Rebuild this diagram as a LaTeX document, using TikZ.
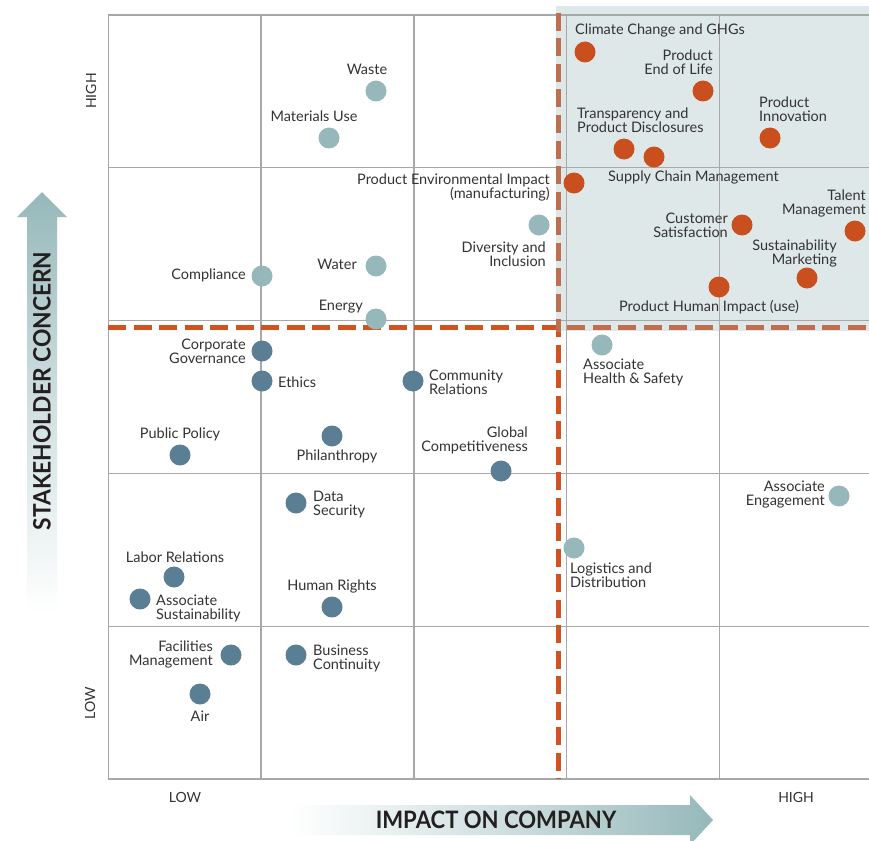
\documentclass[tikz,border=0pt]{standalone}
\usepackage{fontspec}
\setmainfont{Lato}
\definecolor{orgdot}{HTML}{C9501E}
\definecolor{tealdot}{HTML}{96B8BA}
\definecolor{bluedot}{HTML}{5A7E94}
\definecolor{gridc}{HTML}{A8A8A8}
\definecolor{shadec}{HTML}{DFE8E8}
\definecolor{dasho}{HTML}{CF5420}
\definecolor{dashb}{HTML}{BF6E4E}
\definecolor{txt}{HTML}{333333}
\definecolor{arrowc}{HTML}{96B8BA}
\definecolor{arrowtxt}{HTML}{231F20}
\begin{document}
\begin{tikzpicture}[x=1pt,y=-1pt,
  dotbase/.style={circle,minimum size=21pt,inner sep=0pt},
  dotO/.style={dotbase,fill=orgdot},
  dotT/.style={dotbase,fill=tealdot},
  dotB/.style={dotbase,fill=bluedot},
  lbl/.style={font=\fontsize{14.5}{14}\selectfont,text=txt,inner sep=0pt},
  lblL/.style={lbl,anchor=west,align=left},
  lblR/.style={lbl,anchor=east,align=right},
  lblC/.style={lbl,anchor=center,align=center},
  gridline/.style={draw=gridc,line width=1.3pt},
  dashline/.style={line width=5pt,dash pattern=on 18pt off 7.5pt},
  axislbl/.style={font=\fontsize{14}{14}\selectfont,text=txt,inner sep=0pt},
  bigarrowtxt/.style={font=\fontsize{24}{24}\selectfont\bfseries,text=arrowtxt,inner sep=0pt}
]
\useasboundingbox (0,0) rectangle (869,840);
\fill[white] (0,0) rectangle (869,840);
% shaded high/high region
\fill[shadec] (556,6) rectangle (872,331);
% grid
\foreach \k in {0,...,5}{
  \draw[gridline] ({108.3+152.8*\k},15) -- ({108.3+152.8*\k},779);
  \draw[gridline] (108.3,{15+152.8*\k}) -- (872,{15+152.8*\k});
}
% dashed threshold lines
\coordinate (vtop) at (558.5,13);
\coordinate (vbot) at (558.5,779);
\coordinate (hleft) at (108,327);
\coordinate (hright) at (872,327);
\draw[dashline,draw=dasho] (vtop) -- (vbot);
\draw[dashline,draw=dasho] (hleft) -- (hright);
\begin{scope}
  \clip (556,6) rectangle (872,331);
  \draw[dashline,draw=dashb] (vtop) -- (vbot);
  \draw[dashline,draw=dashb] (hleft) -- (hright);
\end{scope}
% arrows
\shade[top color=arrowc,bottom color=white,middle color=arrowc!45]
  (27,613) -- (27,217) -- (17,217) -- (42,192) -- (67,217) -- (57,217) -- (57,613) -- cycle;
\shade[left color=white,right color=arrowc,middle color=arrowc!45]
  (290,805) -- (690,805) -- (690,795) -- (713,820) -- (690,845) -- (690,835) -- (290,835) -- cycle;
\node[bigarrowtxt,rotate=90] (ylab) at (42,391) {\scalebox{0.95}[1]{STAKEHOLDER CONCERN}};
\node[bigarrowtxt] (xlab) at (496,820) {\scalebox{0.92}[1]{IMPACT ON COMPANY}};
% axis ticks
\node[axislbl,rotate=90] (yhigh) at (91,91) {HIGH};
\node[axislbl,rotate=90] (ylow) at (90,703) {LOW};
\node[axislbl] (xlow) at (185,797) {LOW};
\node[axislbl] (xhigh) at (796,797) {HIGH};
% orange dots
\node[dotO] (cc) at (585,52) {};
\node[dotO] (eol) at (703,91) {};
\node[dotO] (tpd) at (624,149) {};
\node[dotO] (scm) at (654,157) {};
\node[dotO] (pi) at (770,138) {};
\node[dotO] (pei) at (574,183) {};
\node[dotO] (cs) at (742,225) {};
\node[dotO] (tm) at (855,231) {};
\node[dotO] (sm) at (807,278) {};
\node[dotO] (phi) at (719,287) {};
\node[lblL] (ccL) at (575,30) {Climate Change and GHGs};
\node[lblR] (eolL) at (713,62) {Product\\End of Life};
\node[lblL] (tpdL) at (577,120) {Transparency and\\Product Disclosures};
\node[lblL] (scmL) at (608,177) {Supply Chain Management};
\node[lblL] (piL) at (759,109) {Product\\Innovation};
\node[lblR] (peiL) at (550,187) {Product Environmental Impact\\(manufacturing)};
\node[lblR] (csL) at (728,225) {Customer\\Satisfaction};
\node[lblR] (tmL) at (866,203) {Talent\\Management};
\node[lblR] (smL) at (837,253) {Sustainability\\Marketing};
\node[lblC] (phiL) at (709,307) {Product Human Impact (use)};
% teal dots
\node[dotT] (waste) at (376,91) {};
\node[dotT] (mu) at (329,138) {};
\node[dotT] (di) at (539,225) {};
\node[dotT] (comp) at (262,276) {};
\node[dotT] (water) at (376,266) {};
\node[dotT] (energy) at (376,319) {};
\node[dotT] (ahs) at (602,345) {};
\node[dotT] (ae) at (839,496) {};
\node[dotT] (ld) at (574,548) {};
\node[lblC] (wasteL) at (367,69) {Waste};
\node[lblC] (muL) at (314,116) {Materials Use};
\node[lblR] (diL) at (546,254) {Diversity and\\Inclusion};
\node[lblR] (compL) at (246,275) {Compliance};
\node[lblR] (waterL) at (357,264) {Water};
\node[lblR] (energyL) at (363,307) {Energy};
\node[lblL] (ahsL) at (583,372) {Associate\\Health \& Safety};
\node[lblR] (aeL) at (825,495) {Associate\\Engagement};
\node[lblL] (ldL) at (570,575) {Logistics and\\Distribution};
% blue dots
\node[dotB] (cg) at (262,351) {};
\node[dotB] (eth) at (262,381) {};
\node[dotB] (cr) at (413,381) {};
\node[dotB] (pp) at (180,455) {};
\node[dotB] (phil) at (332,436) {};
\node[dotB] (gc) at (501,471) {};
\node[dotB] (ds) at (296,503) {};
\node[dotB] (lr) at (174,577) {};
\node[dotB] (as) at (140,599) {};
\node[dotB] (hr) at (332,607) {};
\node[dotB] (fm) at (231,655) {};
\node[dotB] (bc) at (296,655) {};
\node[dotB] (air) at (200,694) {};
\node[lblR] (cgL) at (246,351) {Corporate\\Governance};
\node[lblL] (ethL) at (278,382) {Ethics};
\node[lblL] (crL) at (429,382) {Community\\Relations};
\node[lblC] (ppL) at (180,434) {Public Policy};
\node[lblC] (philL) at (337,456) {Philanthropy};
\node[lblR] (gcL) at (528,440) {Global\\Competitiveness};
\node[lblL] (dsL) at (313,505) {Data\\Security};
\node[lblC] (lrL) at (175,557) {Labor Relations};
\node[lblL] (asL) at (156,608) {Associate\\Sustainability};
\node[lblC] (hrL) at (332,586) {Human Rights};
\node[lblR] (fmL) at (213,654) {Facilities\\Management};
\node[lblL] (bcL) at (313,658) {Business\\Continuity};
\node[lblC] (airL) at (200,716) {Air};
\end{tikzpicture}
\end{document}
